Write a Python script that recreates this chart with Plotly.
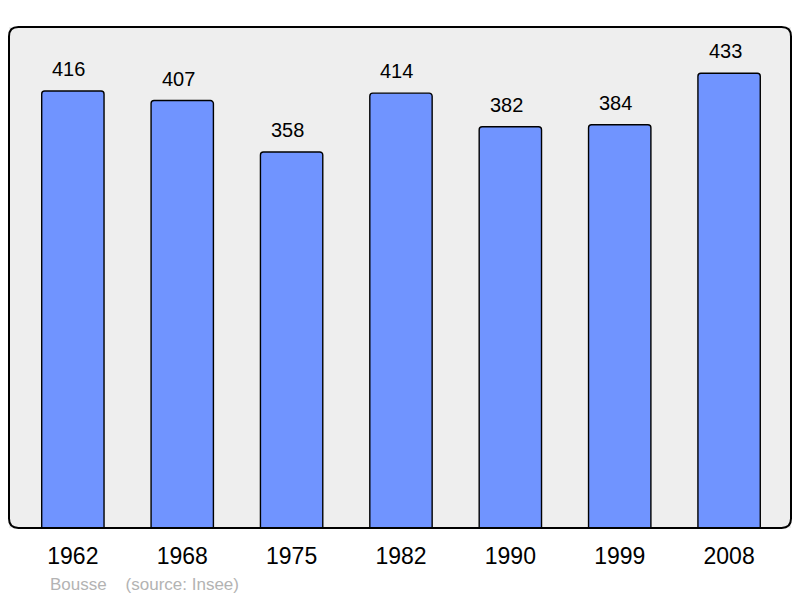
import plotly.graph_objects as go

years = ["1962", "1968", "1975", "1982", "1990", "1999", "2008"]
population = [416, 407, 358, 414, 382, 384, 433]
commune = "Bousse"
source = "(source: Insee)"

FONT = "Liberation Sans, Arial"
fig = go.Figure()
fig.add_trace(go.Bar(
    x=years, y=population, width=0.57,
    marker=dict(color="#7094ff", line=dict(color="#000000", width=1.4), cornerradius=3),
    hoverinfo="skip",
))
for i, v in enumerate(population):
    fig.add_annotation(x=i, y=v, text=str(v), showarrow=False, yanchor="bottom",
                       yshift=9, xshift=-4, font=dict(family=FONT, size=20, color="#000"))

L, R, T, B = 9, 9, 27, 70
W, H = 800, 598
fig.update_layout(
    width=W, height=H,
    margin=dict(l=L, r=R, t=T, b=B),
    paper_bgcolor="#ffffff",
    plot_bgcolor="#eeeeee",
    showlegend=False,
    xaxis=dict(type="category", range=[-0.584, 6.566], showgrid=False, zeroline=False,
               ticks="", ticklabelstandoff=12,
               tickfont=dict(family=FONT, size=23, color="#000")),
    yaxis=dict(range=[0, 477], showgrid=False, zeroline=False, showticklabels=False, ticks=""),
    font=dict(family=FONT),
)
# rounded border around plot area
r = 0.012
rx = r
ry = r * (W - L - R) / (H - T - B)
path = (f"M {rx},0 L {1-rx},0 Q 1,0 1,{ry} L 1,{1-ry} Q 1,1 {1-rx},1 "
        f"L {rx},1 Q 0,1 0,{1-ry} L 0,{ry} Q 0,0 {rx},0 Z")
fig.add_shape(type="path", xref="x domain", yref="y domain", path=path,
              line=dict(color="#000000", width=2), layer="above")
fig.add_annotation(xref="paper", yref="paper", x=(48 - L) / (W - L - R), y=0,
                   xanchor="left", yanchor="top", yshift=-45, showarrow=False,
                   text=f"{commune}&nbsp;&nbsp;&nbsp;&nbsp;{source}",
                   font=dict(family=FONT, size=17, color="#b3b3b3"))
fig.write_html("out.html", config={"displayModeBar": False},
               post_script="document.body.style.margin='0';")
